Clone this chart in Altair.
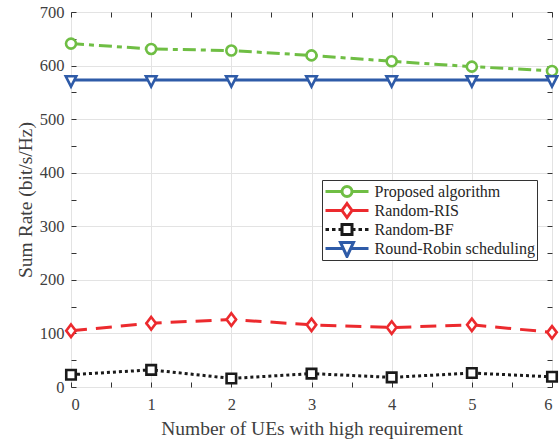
import altair as alt
import pandas as pd

# ---------------- data ----------------
ues = [0, 1, 2, 3, 4, 5, 6]
proposed = [641, 631, 628, 619, 608, 598, 590]
random_ris = [105, 119, 126, 116, 111, 116, 102]
random_bf = [23, 32, 16, 25, 18, 26, 19]
round_robin = [573, 573, 573, 573, 573, 573, 573]

series_names = ["Proposed algorithm", "Random-RIS", "Random-BF", "Round-Robin scheduling"]
series_values = [proposed, random_ris, random_bf, round_robin]
colors = ["#6FBE44", "#EC2A2E", "#1A1A1A", "#2E5BA8"]
dashes = [[13, 5, 5, 5], [16, 9], [3, 3], [1, 0]]

x_ticks = [0, 1, 2, 3, 4, 5, 6]
y_ticks = [0, 100, 200, 300, 400, 500, 600, 700]

rows = []
for name, vals in zip(series_names, series_values):
    for u, v in zip(ues, vals):
        rows.append({"ues": u, "rate": v, "series": name})
df = pd.DataFrame(rows)

# ---------------- marker shapes (chart) ----------------
marker_shapes = [
    "circle",
    "M0,-1.25L0.95,0L0,1.25L-0.95,0Z",
    "M-0.95,-0.95H0.95V0.95H-0.95Z",
    "M-1.05,-0.75L1.05,-0.75L0,1.3Z",
]

# ---------------- legend symbol paths ----------------
U = 7.0  # px per unit (symbol size 196)


def px(xp, yp):
    return f"{(xp - U) / U:.3f},{yp / U:.3f}"


def seg(a, b):
    return f"M{px(a, 0)}L{px(b, 0)}"


def circle(cx, r):
    k = 0.5523 * r
    return (f"M{px(cx + r, 0)}"
            f"C{px(cx + r, k)} {px(cx + k, r)} {px(cx, r)}"
            f"C{px(cx - k, r)} {px(cx - r, k)} {px(cx - r, 0)}"
            f"C{px(cx - r, -k)} {px(cx - k, -r)} {px(cx, -r)}"
            f"C{px(cx + k, -r)} {px(cx + r, -k)} {px(cx + r, 0)}Z")


C = 21.5
legend_shapes = [
    seg(0, 16.5) + seg(26.5, 43) + circle(C, 5),
    seg(0, 16.5) + seg(26.5, 43)
    + f"M{px(C, -7)}L{px(C + 5, 0)}L{px(C, 7)}L{px(C - 5, 0)}Z",
    seg(0, 3.5) + seg(6.5, 10) + seg(13, 16)
    + f"M{px(C - 5, -5)}L{px(C + 5, -5)}L{px(C + 5, 5)}L{px(C - 5, 5)}Z"
    + seg(27, 30) + seg(33, 36.5) + seg(39.5, 43),
    seg(0, 17.8) + seg(25.2, 43)
    + f"M{px(C - 6.5, -6)}L{px(C + 6.5, -6)}L{px(C, 8)}Z",
]

FONT = "Liberation Serif"
TXT = "#404040"
W, H = 481, 375

x_scale = alt.Scale(domain=[0, 6], nice=False, zero=False)
y_scale = alt.Scale(domain=[0, 700], nice=False)
color_scale = alt.Scale(domain=series_names, range=colors)


def tick_axis(orient, offset):
    return alt.Axis(orient=orient, offset=offset, labels=False, title=None, grid=False,
                    domain=False, ticks=True, tickSize=5, tickColor="#333333",
                    tickWidth=1)


# lines layer (main axes + grid)
lines = alt.Chart(df).mark_line(strokeWidth=3, clip=False).encode(
    x=alt.X("ues:Q", scale=x_scale,
            axis=alt.Axis(orient="bottom", values=x_ticks, title="Number of UEs with high requirement",
                          grid=True, gridColor="#E3E3E3", ticks=False, domain=False,
                          labelFont=FONT, labelFontSize=16.5, labelColor=TXT, labelPadding=9,
                          titleFont=FONT, titleFontSize=19.5, titleFontWeight="normal",
                          titleColor=TXT, titlePadding=7)),
    y=alt.Y("rate:Q", scale=y_scale,
            axis=alt.Axis(orient="left", values=y_ticks, title="Sum Rate (bit/s/Hz)",
                          grid=True, gridColor="#E3E3E3", ticks=False, domain=False,
                          labelFont=FONT, labelFontSize=16.5, labelColor=TXT, labelPadding=7,
                          titleFont=FONT, titleFontSize=19.5, titleFontWeight="normal",
                          titleColor=TXT, titlePadding=4)),
    color=alt.Color("series:N", scale=color_scale, legend=None),
    strokeDash=alt.StrokeDash("series:N", scale=alt.Scale(domain=series_names, range=dashes),
                              legend=None),
    detail="series:N",
)

points = alt.Chart(df).mark_point(filled=False, fill="white", fillOpacity=1, opacity=1,
                                  strokeWidth=2.6, size=100, clip=False).encode(
    x=alt.X("ues:Q", scale=x_scale, axis=tick_axis("top", -H)),
    y=alt.Y("rate:Q", scale=y_scale, axis=tick_axis("right", -W)),
    stroke=alt.Stroke("series:N", scale=color_scale, legend=None),
    shape=alt.Shape("series:N", scale=alt.Scale(domain=series_names, range=marker_shapes),
                    legend=None),
)

leg = alt.Legend(title=None, orient="none", legendX=251, legendY=168,
                 strokeColor="#333333", fillColor="white", padding=2,
                 labelFont=FONT, labelFontSize=16, labelColor="#262626",
                 labelOffset=33.5, rowPadding=0, clipHeight=19, symbolSize=196,
                 symbolStrokeWidth=3, symbolOpacity=1, labelLimit=300)

legend_layer = alt.Chart(df).transform_filter("false").mark_point(filled=False).encode(
    x=alt.X("ues:Q", scale=x_scale, axis=tick_axis("bottom", -H)),
    y=alt.Y("rate:Q", scale=y_scale, axis=tick_axis("left", -W)),
    color=alt.Color("series:N", scale=color_scale, legend=leg, sort=series_names),
    shape=alt.Shape("series:N", scale=alt.Scale(domain=series_names, range=legend_shapes),
                    legend=leg, sort=series_names),
)

chart = alt.layer(lines, points, legend_layer).resolve_axis(
    x="independent", y="independent"
).resolve_scale(
    color="independent", shape="independent", stroke="independent"
).properties(
    width=W, height=H,
    padding={"left": 71, "top": 12, "right": 7, "bottom": 53},
    autosize=alt.AutoSizeParams(type="none"),
    background="white",
).configure_view(
    stroke="#262626", strokeWidth=1
)

chart.save("out.html", embed_options={"renderer": "svg", "actions": False})
